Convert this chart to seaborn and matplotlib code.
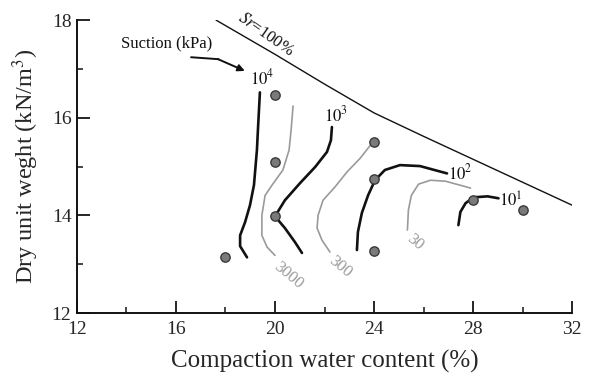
import matplotlib
matplotlib.use("Agg")
import matplotlib.pyplot as plt
import seaborn as sns
import pandas as pd
from matplotlib.ticker import MultipleLocator

# ---- data ----
pts_w = [18, 20, 20, 20, 24, 24, 24, 28, 30]
pts_g = [13.15, 16.46, 15.09, 13.98, 15.50, 14.74, 13.28, 14.31, 14.11]

sr_w = [17.62, 20, 22, 24, 26, 28, 30, 32]
sr_g = [18.0, 17.30, 16.69, 16.10, 15.62, 15.15, 14.68, 14.21]

s1e4_w = [19.39, 19.31, 19.27, 19.15, 18.99, 18.79, 18.59, 18.59, 18.87]
s1e4_g = [16.52, 15.75, 15.34, 14.62, 14.21, 13.86, 13.59, 13.37, 13.14]

s3000_w = [20.73, 20.65, 20.57, 20.32, 19.88, 19.60, 19.47, 19.47, 19.68, 20.0]
s3000_g = [16.24, 15.75, 15.34, 14.93, 14.62, 14.41, 14.0, 13.59, 13.35, 13.18]

s1e3_w = [22.30, 22.26, 22.10, 21.62, 21.01, 20.40, 20.0, 20.40, 20.81, 21.09]
s1e3_g = [15.81, 15.54, 15.30, 14.99, 14.66, 14.31, 13.98, 13.74, 13.45, 13.23]

s300_w = [23.92, 23.44, 22.91, 22.42, 21.94, 21.74, 21.70, 21.90, 22.22]
s300_g = [15.48, 15.17, 14.89, 14.58, 14.31, 14.0, 13.74, 13.49, 13.25]

s1e2_w = [23.31, 23.35, 23.51, 23.76, 24.04, 24.44, 25.05, 25.86, 26.95]
s1e2_g = [13.29, 13.66, 14.05, 14.41, 14.72, 14.93, 15.03, 15.01, 14.86]

s30_w = [25.35, 25.39, 25.51, 25.80, 26.28, 26.89, 27.90]
s30_g = [13.70, 14.11, 14.41, 14.64, 14.72, 14.70, 14.56]

s1e1_w = [27.41, 27.49, 27.70, 28.02, 28.59, 29.03]
s1e1_g = [13.80, 14.07, 14.25, 14.37, 14.39, 14.35]

x_ticks = [12, 16, 20, 24, 28, 32]
y_ticks = [12, 14, 16, 18]

sns.set_theme(style="ticks")
plt.rcParams['font.family'] = ['Liberation Serif', 'DejaVu Serif']
plt.rcParams['mathtext.fontset'] = 'stix'

fig = plt.figure(figsize=(5.9, 3.8), dpi=100)
ax = fig.add_axes([0.1305, 0.1763, 0.839, 0.7707])

BLACK = "#111111"
GRAY = "#9a9a9a"

def line(w, g, color, lw):
    df = pd.DataFrame({"w": w, "g": g})
    sns.lineplot(data=df, x="w", y="g", sort=False, estimator=None,
                 color=color, lw=lw, ax=ax)

line(sr_w, sr_g, BLACK, 1.0)
line(s3000_w, s3000_g, GRAY, 1.2)
line(s300_w, s300_g, GRAY, 1.2)
line(s30_w, s30_g, GRAY, 1.2)
line(s1e4_w, s1e4_g, BLACK, 1.9)
line(s1e3_w, s1e3_g, BLACK, 1.9)
line(s1e2_w, s1e2_g, BLACK, 1.9)
line(s1e1_w, s1e1_g, BLACK, 1.9)

sns.scatterplot(x=pts_w, y=pts_g, s=45, color="#7a7a7a", edgecolor="#3a3a3a",
                linewidth=1.0, ax=ax, zorder=5)

ax.set_xlim(12, 32)
ax.set_ylim(12, 18)
ax.set_xticks(x_ticks)
ax.set_yticks(y_ticks)
ax.xaxis.set_minor_locator(MultipleLocator(2))
ax.yaxis.set_minor_locator(MultipleLocator(1))
ax.tick_params(which="major", direction="in", length=9, width=1.4, labelsize=14)
ax.tick_params(axis="x", which="major", pad=6)
ax.tick_params(axis="y", which="major", pad=4)
ax.tick_params(which="minor", direction="in", length=4.5, width=1.2)
for s in ["top", "right"]:
    ax.spines[s].set_visible(False)
for s in ["left", "bottom"]:
    ax.spines[s].set_linewidth(1.4)
    ax.spines[s].set_color("#111111")

ax.set_xlabel("Compaction water content (%)", fontsize=18, labelpad=8)
ax.set_ylabel("Dry unit weght (kN/m$^3$)", fontsize=17.5, labelpad=8)

# contour labels
lab = dict(fontsize=12, ha="center", va="center")
ax.text(19.47, 16.81, r"$10^4$", color=BLACK, **lab)
ax.text(22.46, 16.05, r"$10^3$", color=BLACK, **lab)
ax.text(27.47, 14.86, r"$10^2$", color=BLACK, **lab)
ax.text(29.54, 14.29, r"$10^1$", color=BLACK, **lab)
ax.text(20.53, 12.77, "3000", color=GRAY, rotation=-40, rotation_mode="anchor", **lab)
ax.text(22.63, 12.94, "300", color=GRAY, rotation=-40, rotation_mode="anchor", **lab)
ax.text(25.66, 13.45, "30", color=GRAY, rotation=-40, rotation_mode="anchor", **lab)

ax.text(19.62, 17.70, r"$\mathit{Sr}$=100%", fontsize=12, rotation=-35,
        rotation_mode="anchor", ha="center", va="center", color=BLACK)

ax.text(15.64, 17.53, "Suction (kPa)", fontsize=12, ha="center", va="center", color=BLACK)
ax.plot([16.61, 17.72], [17.24, 17.20], color=BLACK, lw=1.4)
ax.annotate("", xy=(18.78, 16.96), xytext=(17.70, 17.20),
            arrowprops=dict(arrowstyle="-|>", color=BLACK, lw=1.4,
                            mutation_scale=10, shrinkA=0, shrinkB=0))

fig.savefig("out.png", dpi=100)
